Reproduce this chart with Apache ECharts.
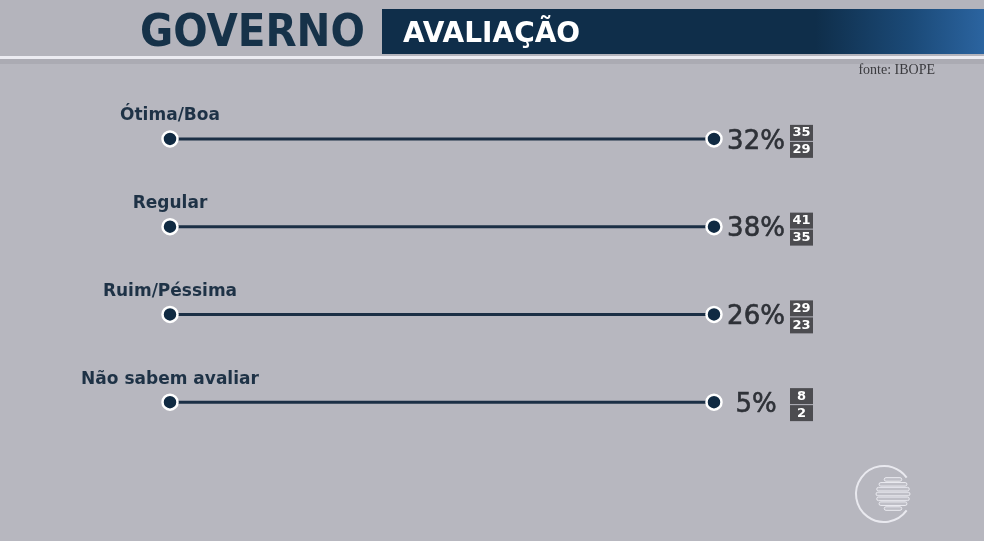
<!DOCTYPE html>
<html><head><meta charset="utf-8">
<script src="https://cdn.jsdelivr.net/npm/echarts@6/dist/echarts.min.js"></script>
<style>html,body{margin:0;padding:0;background:#b7b7bf;}#c{width:984px;height:541px;}</style>
</head><body><div id="c"></div>
<script>
const categories = ['Ótima/Boa', 'Regular', 'Ruim/Péssima', 'Não sabem avaliar'];
const values = [32, 38, 26, 5];
const upperBounds = [35, 41, 29, 8];
const lowerBounds = [29, 35, 23, 2];
const title = 'GOVERNO';
const subtitle = 'AVALIAÇÃO';
const source = 'fonte: IBOPE';

const chart = echarts.init(document.getElementById('c'), null, {renderer: 'canvas'});
const data = categories.map((c, i) => [0, 1, i, values[i], upperBounds[i], lowerBounds[i]]);

function logoStripes() {
  const cx = 893, cy = 494, r = 17, n = 7, out = [];
  for (let k = 0; k < n; k++) {
    const y = cy - r + (k + 0.5) * (2 * r / n);
    const dy = y - cy;
    const half = Math.sqrt(Math.max(r * r - dy * dy, 0));
    out.push({type: 'rect', shape: {x: cx - half, y: y - 1.8, width: 2 * half, height: 3.6, r: 1.8},
      style: {fill: 'rgba(200,200,208,0.5)', stroke: 'rgba(238,238,244,0.9)', lineWidth: 1}, silent: true});
  }
  return out;
}

const option = {
  backgroundColor: '#b7b7bf',
  animation: false,
  grid: {left: 170, right: 270, top: 95, height: 351},
  xAxis: {type: 'value', min: 0, max: 1, show: false},
  yAxis: {type: 'category', data: categories, inverse: true, show: false},
  graphic: [
    {type: 'rect', shape: {x: 0, y: 0, width: 984, height: 57}, style: {fill: '#b4b4bc'}, z: -1},
    {type: 'rect', shape: {x: 382, y: 9, width: 602, height: 45},
      style: {fill: new echarts.graphic.LinearGradient(0, 0, 1, 0, [
        {offset: 0, color: '#0f2e4a'}, {offset: 0.72, color: '#0f2e4a'},
        {offset: 0.88, color: '#1b4a78'}, {offset: 1, color: '#2b64a0'}])}},
    {type: 'text', x: 140, y: 34, style: {text: title, font: 'bold 45px "DejaVu Sans Condensed", "DejaVu Sans"',
      fill: '#163249', verticalAlign: 'middle', align: 'left'}},
    {type: 'text', x: 403, y: 35, style: {text: subtitle, font: 'bold 28px "DejaVu Sans"',
      fill: '#ffffff', verticalAlign: 'middle', align: 'left'}},
    {type: 'rect', shape: {x: 0, y: 56, width: 984, height: 3}, style: {fill: '#ececf2'}},
    {type: 'rect', shape: {x: 0, y: 59, width: 984, height: 5}, style: {fill: '#ababb3'}},
    {type: 'text', x: 935, y: 70, style: {text: source, font: '14px "Liberation Serif"',
      fill: '#3a3a3e', verticalAlign: 'middle', align: 'right'}},
    {type: 'arc', shape: {cx: 884, cy: 494, r: 28, startAngle: Math.PI * 0.2, endAngle: Math.PI * 1.8, clockwise: true},
      style: {stroke: 'rgba(238,238,244,0.9)', lineWidth: 2, fill: 'none'}, silent: true}
  ].concat(logoStripes()),
  series: [{
    type: 'custom',
    data: data,
    encode: {x: [0, 1], y: 2},
    renderItem: function (params, api) {
      const idx = api.value(2);
      const p0 = api.coord([api.value(0), idx]);
      const p1 = api.coord([api.value(1), idx]);
      const v = api.value(3), up = api.value(4), lo = api.value(5);
      const dot = (p) => ({type: 'circle', shape: {cx: p[0], cy: p[1], r: 7.5},
        style: {fill: '#102a42', stroke: '#ffffff', lineWidth: 2.5}});
      return {type: 'group', children: [
        {type: 'line', shape: {x1: p0[0], y1: p0[1], x2: p1[0], y2: p1[1]},
          style: {stroke: '#1b2f45', lineWidth: 3}},
        dot(p0), dot(p1),
        {type: 'text', x: p0[0], y: p0[1] - 23, style: {text: categories[idx],
          font: 'bold 17px "DejaVu Sans"', fill: '#1e3246', align: 'center', verticalAlign: 'middle'}},
        {type: 'text', x: p1[0] + 42, y: p1[1] + 3, style: {text: v + '%',
          font: '26px "DejaVu Sans"', fill: '#2e3137', align: 'center', verticalAlign: 'middle',
          stroke: '#2e3137', lineWidth: 0.6}},
        {type: 'rect', shape: {x: p1[0] + 76, y: p1[1] - 14, width: 23, height: 16}, style: {fill: '#4c4c50'}},
        {type: 'text', x: p1[0] + 87.5, y: p1[1] - 6, style: {text: String(up),
          font: 'bold 13px "DejaVu Sans"', fill: '#ffffff', align: 'center', verticalAlign: 'middle'}},
        {type: 'rect', shape: {x: p1[0] + 76, y: p1[1] + 3, width: 23, height: 16}, style: {fill: '#4c4c50'}},
        {type: 'text', x: p1[0] + 87.5, y: p1[1] + 11, style: {text: String(lo),
          font: 'bold 13px "DejaVu Sans"', fill: '#ffffff', align: 'center', verticalAlign: 'middle'}}
      ]};
    }
  }]
};
chart.setOption(option);
</script>
</body></html>
